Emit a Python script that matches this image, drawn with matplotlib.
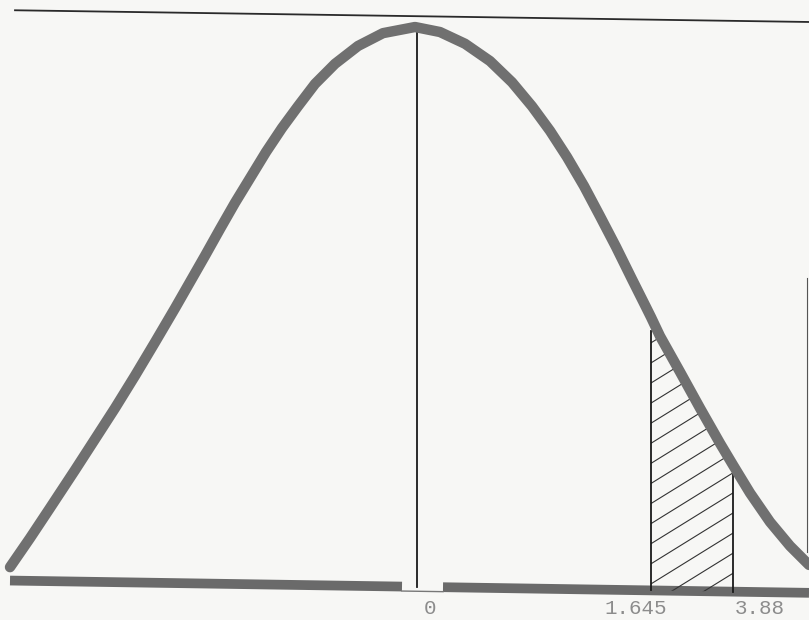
import matplotlib

matplotlib.use("Agg")
import matplotlib.pyplot as plt
import numpy as np

# bell curve: x along the axis, y relative height (peak = 1)
curve_x = [-4.07, -3.87, -3.67, -3.42, -3.20, -3.02, -2.82, -2.62, -2.42, -2.27,
           -2.12, -1.97, -1.82, -1.67, -1.51, -1.35, -1.19, -1.02, -0.82, -0.59,
           -0.34, -0.02, 0.23, 0.48, 0.73, 0.95, 1.15, 1.33, 1.50, 1.67, 1.83,
           1.99, 2.15, 2.29, 2.34, 2.43, 2.63, 2.83, 3.03, 3.16, 3.33, 3.53,
           3.73, 3.92]
curve_y = [0.032, 0.084, 0.138, 0.206, 0.267, 0.317, 0.375, 0.435, 0.496, 0.543,
           0.590, 0.638, 0.685, 0.729, 0.776, 0.819, 0.858, 0.898, 0.934, 0.966,
           0.989, 1.0, 0.991, 0.970, 0.939, 0.901, 0.858, 0.814, 0.767, 0.715, 0.661,
           0.606, 0.548, 0.498, 0.480, 0.446, 0.382, 0.317, 0.254, 0.215, 0.165, 0.113,
           0.070, 0.036]

mean_x = 0.0
shade_lo, shade_hi = 2.34, 3.16
tick_labels = ["0", "1.645", "3.88"]
label_x = [0.13, 2.19, 3.43]

# ruled lines of the sheet (slightly tilted scan)
top_line_x = [-4.02, 3.92]
top_line_y = [1.030, 1.009]
base_line_x = [-4.07, 3.92]
base_line_y = [0.008, -0.014]

curve_x = np.array(curve_x)
curve_y = np.array(curve_y)

fig = plt.figure(figsize=(8.09, 6.20), dpi=100, facecolor="#f7f7f5")
ax = fig.add_axes([0, 0, 1, 1])
ax.set_facecolor("#f7f7f5")
ax.set_xlim(-4.17, 3.92)
ax.set_ylim(-0.0627, 1.0484)
ax.axis("off")

### Top rule
ax.plot(top_line_x, top_line_y, color="#2a2a2a", linewidth=1.3)

### Base line, with a small gap under the mean
gap_lo, gap_hi = mean_x - 0.15, mean_x + 0.26
base_at = lambda x: np.interp(x, base_line_x, base_line_y)
ax.plot([base_line_x[0], gap_lo], [base_at(base_line_x[0]), base_at(gap_lo)],
        color="#6a6a6a", linewidth=7, solid_capstyle="butt")
ax.plot([gap_hi, base_line_x[1]], [base_at(gap_hi), base_at(base_line_x[1])],
        color="#6a6a6a", linewidth=7, solid_capstyle="butt")
ax.plot([gap_lo, gap_hi], [base_at(gap_lo) - 0.008, base_at(gap_hi) - 0.008],
        color="#777777", linewidth=1.0)

### Shaded tail area with sparse diagonal hatching
mask = (curve_x >= shade_lo) & (curve_x <= shade_hi)
poly = ax.fill_between(curve_x[mask], base_at(curve_x[mask]), curve_y[mask],
                       facecolor="none", linewidth=0)
clip = poly.get_paths()[0]
slope = 0.111
for c in np.arange(-0.25, 0.5, 0.036):
    (ln,) = ax.plot([shade_lo, shade_hi], [c, c + slope * (shade_hi - shade_lo)],
                    color="#333333", linewidth=0.8)
    ln.set_clip_path(clip, ax.transData)

### Vertical markers
peak_y = curve_y.max()
ax.plot([mean_x, mean_x], [base_at(mean_x), peak_y], color="#1a1a1a", linewidth=1.3)
lo_top = np.interp(shade_lo, curve_x, curve_y) - 0.025
hi_top = np.interp(shade_hi, curve_x, curve_y) - 0.015
ax.plot([shade_lo, shade_lo], [base_at(shade_lo), lo_top], color="#1a1a1a", linewidth=1.3)
ax.plot([shade_hi, shade_hi], [base_at(shade_hi), hi_top], color="#1a1a1a", linewidth=1.3)

### The bell curve itself
ax.plot(curve_x, curve_y, color="#707070", linewidth=7.5,
        solid_joinstyle="round", solid_capstyle="round")

### Faint edge line at the right of the sheet
ax.plot([3.90, 3.90], [0.06, 0.55], color="#555555", linewidth=0.8)

### Typed labels under the axis
for lx, text in zip(label_x, tick_labels):
    ax.text(lx, -0.052, text, ha="center", va="baseline", fontsize=15,
            family=["Liberation Mono", "DejaVu Sans Mono"], color="#8c8c8c")

fig.savefig("out.png", dpi=100, facecolor=fig.get_facecolor())
